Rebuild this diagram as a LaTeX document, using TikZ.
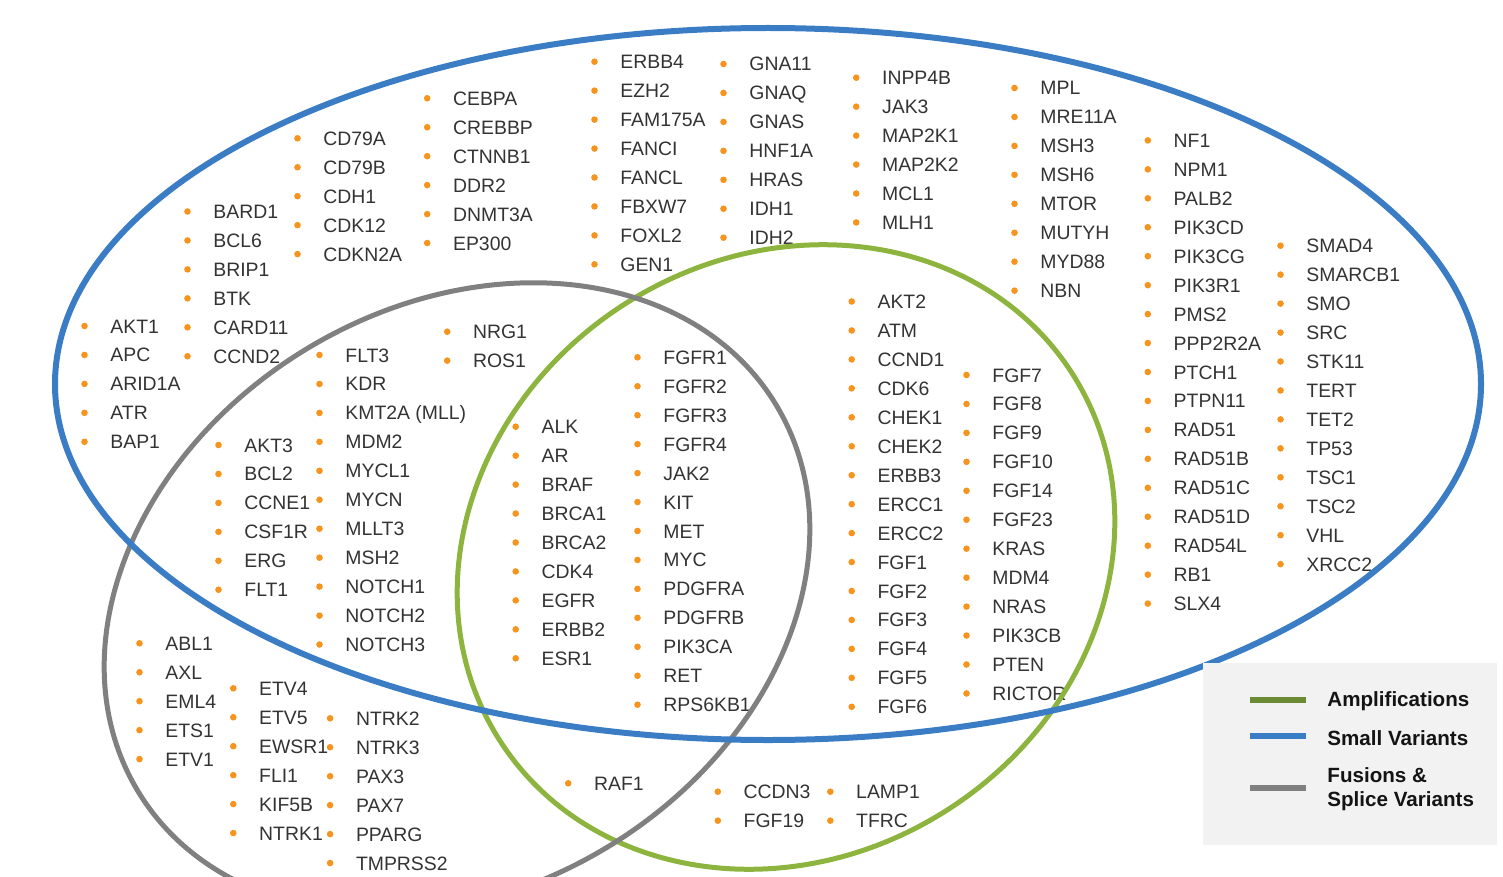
\documentclass[tikz,border=0pt]{standalone}
\usepackage{fontspec}
\setmainfont{Liberation Sans}
\usetikzlibrary{calc}
\definecolor{smallblue}{RGB}{58,125,196}
\definecolor{ampgreen}{RGB}{141,180,62}
\definecolor{ampdark}{RGB}{107,138,52}
\definecolor{fusgray}{RGB}{128,128,128}
\definecolor{dotorange}{RGB}{247,148,30}
\definecolor{genetext}{RGB}{51,51,51}
\definecolor{legbox}{RGB}{242,242,242}
\begin{document}
\begin{tikzpicture}[x=0.5pt,y=0.5pt,yscale=-1,xscale=1,
  gene/.style={anchor=base west,inner sep=0pt,text=genetext,font=\fontsize{9.7}{11}\selectfont},
  bullet/.style={fill=dotorange},
  setline/.style={line width=2.5pt},
  legline/.style={line width=3pt},
  legtext/.style={anchor=west,inner sep=0pt,align=left,text=black!92,font=\fontsize{10.3}{12}\selectfont\bfseries}]
%set diagram left start at 0, and has height of 877
\useasboundingbox (0,0) rectangle (1503,877);
\clip (0,0) rectangle (1503,877);

% Gene lists: name/left/first row/genes
\foreach \c/\x/\y/\genes in {
  c1/110/326/{AKT1,APC,ARID1A,ATR,BAP1},
  c2/213/211.5/{BARD1,BCL6,BRIP1,BTK,CARD11,CCND2},
  c3/323/138.3/{CD79A,CD79B,CDH1,CDK12,CDKN2A},
  c4/452.7/98.3/{CEBPA,CREBBP,CTNNB1,DDR2,DNMT3A,EP300},
  c5/620/61.7/{ERBB4,EZH2,FAM175A,FANCI,FANCL,FBXW7,FOXL2,GEN1},
  c6/749/64/{GNA11,GNAQ,GNAS,HNF1A,HRAS,IDH1,IDH2},
  c7/881.7/77.7/{INPP4B,JAK3,MAP2K1,MAP2K2,MCL1,MLH1},
  c8/1040/88/{MPL,MRE11A,MSH3,MSH6,MTOR,MUTYH,MYD88,NBN},
  c9/1173.3/140.4/{NF1,NPM1,PALB2,PIK3CD,PIK3CG,PIK3R1,PMS2,PPP2R2A,PTCH1,PTPN11,RAD51,RAD51B,RAD51C,RAD51D,RAD54L,RB1,SLX4},
  c10/1306/245.7/{SMAD4,SMARCB1,SMO,SRC,STK11,TERT,TET2,TP53,TSC1,TSC2,VHL,XRCC2},
  c11/472.7/331.7/{NRG1,ROS1},
  c12/345/355/{FLT3,KDR,KMT2A (MLL),MDM2,MYCL1,MYCN,MLLT3,MSH2,NOTCH1,NOTCH2,NOTCH3},
  c13/244/445/{AKT3,BCL2,CCNE1,CSF1R,ERG,FLT1},
  c14/165/643.3/{ABL1,AXL,EML4,ETS1,ETV1},
  c15/258.8/688.3/{ETV4,ETV5,EWSR1,FLI1,KIF5B,NTRK1},
  c16/355.6/718.3/{NTRK2,NTRK3,PAX3,PAX7,PPARG,TMPRSS2},
  c17/593.7/783.3/{RAF1},
  c18/541.2/426.7/{ALK,AR,BRAF,BRCA1,BRCA2,CDK4,EGFR,ERBB2,ESR1},
  c19/663/357.3/{FGFR1,FGFR2,FGFR3,FGFR4,JAK2,KIT,MET,MYC,PDGFRA,PDGFRB,PIK3CA,RET,RPS6KB1},
  c20/877.2/301.5/{AKT2,ATM,CCND1,CDK6,CHEK1,CHEK2,ERBB3,ERCC1,ERCC2,FGF1,FGF2,FGF3,FGF4,FGF5,FGF6},
  c21/992/375/{FGF7,FGF8,FGF9,FGF10,FGF14,FGF23,KRAS,MDM4,NRAS,PIK3CB,PTEN,RICTOR},
  c22/743.3/791.7/{CCDN3,FGF19},
  c23/855.8/791.7/{LAMP1,TFRC}}{
  \foreach \g [count=\i] in \genes {
    \node[gene] (\c-\i) at (\x,{\y+(\i-1)*28.95+7}) {\g};
    \fill[bullet] (\x-25.5,{\y+(\i-1)*28.95}) circle (3.3);
  }
}

%Shape: Ellipse - amplifications
\draw[setline,ampgreen,rotate around={-32.8:(786,557)}] (786,557) ellipse [x radius=340, y radius=300];
%Shape: Ellipse - fusions & splice variants
\draw[setline,fusgray,rotate around={-31.3:(457,598)}] (457,598) ellipse [x radius=373, y radius=291];
%Shape: Ellipse - small variants
\draw[line width=3pt,smallblue] (768,384) ellipse [x radius=713, y radius=356];

% Legend
\fill[legbox] (1203,663) rectangle (1497,845);
\node[legtext] (amp) at (1327,701) {Amplifications};
\node[legtext] (small) at (1327,738) {Small Variants};
\node[legtext] (fus) at (1327,789) {Fusions \&\\Splice Variants};
\draw[legline,ampdark] ($(amp.west)+(-77,-1)$) -- ++(56,0);
\draw[legline,smallblue] ($(small.west)+(-77,-2)$) -- ++(56,0);
\draw[legline,fusgray] ($(fus.west)+(-77,-1)$) -- ++(56,0);

\end{tikzpicture}
\end{document}
